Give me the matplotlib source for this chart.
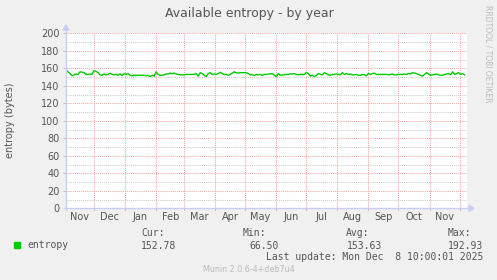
import matplotlib
matplotlib.use("Agg")
import matplotlib.pyplot as plt
import matplotlib.dates as mdates
import numpy as np
import datetime as dt

# ---- data ----
start_date = dt.datetime(2024, 11, 3)
end_date = dt.datetime(2025, 12, 8, 10, 0, 1)
step_days = 2
entropy = [
    158, 156, 154, 151.5, 152.5, 153.5, 153, 156, 155.5, 155, 153, 153, 153.5, 153,
    157.5, 156.5, 155, 152.5, 152, 153.5, 152.5, 153, 154.5, 153, 152.5, 153, 152,
    153.5, 151.5, 154, 153, 154,
    152, 151.5, 152, 152, 152, 152, 152, 152, 151.5, 152, 150.5, 152, 151, 156,
    153, 152, 152, 152.5, 153.5, 153.5, 154.5, 154, 154.5, 153.5, 153, 152.5, 152.5,
    152.5, 153, 153, 153, 153, 153, 154,
    151, 155, 154, 152, 150.5, 154, 155, 153, 153.5, 153, 154, 155.5, 154, 153, 153,
    152, 153, 154.5, 156, 155, 154.5, 155, 155, 155, 155, 154, 152.5, 152.5, 152,
    153, 152.5, 153, 152,
    153, 153, 153.5, 153.5, 154, 152, 150.5, 154, 152, 152.5, 152.5, 153, 153, 153.5,
    153.5, 154, 153, 152.5, 153, 153, 153, 155.5, 154, 151, 152, 150.5, 152, 154,
    153, 152.5, 155, 154, 152.5, 152,
    153, 153, 153.5, 153, 152.5, 155, 153, 154, 153, 153.5, 152.5, 152.5, 153, 152,
    152, 153, 152.5, 151.5, 154, 153, 154, 154.5, 153, 153, 153, 153, 153, 153,
    152.5, 153, 153.5, 152.5, 152.5, 153,
    153, 153, 153.5, 153, 154, 153.5, 155, 154.5, 154, 153, 152, 151, 153, 155,
    153.5, 152, 152.5, 153, 153.5, 152.5, 152, 152, 153, 153.5, 154, 152.5, 156,
    153, 154, 155, 153, 154, 152.5,
]
yticks = [0, 20, 40, 60, 80, 100, 120, 140, 160, 180, 200]
month_labels = ["Nov", "Dec", "Jan", "Feb", "Mar", "Apr", "May", "Jun", "Jul",
                "Aug", "Sep", "Oct", "Nov"]
month_starts = [dt.datetime(2024, 11, 1), dt.datetime(2024, 12, 1), dt.datetime(2025, 1, 1),
                dt.datetime(2025, 2, 1), dt.datetime(2025, 3, 1), dt.datetime(2025, 4, 1),
                dt.datetime(2025, 5, 1), dt.datetime(2025, 6, 1), dt.datetime(2025, 7, 1),
                dt.datetime(2025, 8, 1), dt.datetime(2025, 9, 1), dt.datetime(2025, 10, 1),
                dt.datetime(2025, 11, 1), dt.datetime(2025, 12, 1)]
legend_name = "entropy"
cur_v, min_v, avg_v, max_v = "152.78", "66.50", "153.63", "192.93"

dates = [start_date + dt.timedelta(days=step_days * i) for i in range(len(entropy))]

# ---- figure ----
W, H = 497, 280
bg = "#F0F0F0"
fig = plt.figure(figsize=(W / 100, H / 100), dpi=100, facecolor=bg)

def fx(px):
    return px / W

def fy(py):
    return 1 - py / H

L, R, T, B = 66, 467, 33.3, 208.3
ax = fig.add_axes([fx(L), fy(B), fx(R) - fx(L), fy(T) - fy(B)])
ax.set_facecolor("white")
for s in ax.spines.values():
    s.set_visible(False)

ax.set_xlim(mdates.date2num(start_date), mdates.date2num(end_date))
ax.set_ylim(0, 200)

major_c = "#F2A6A6"
minor_c = "#CCCCCC"
dot = (0, (1, 1))
lw = 0.75

for v in range(10, 200, 20):
    ax.axhline(v, color=minor_c, lw=lw, ls=dot, zorder=1)
for v in yticks[1:]:
    ax.axhline(v, color=major_c, lw=lw, ls=dot, zorder=1)
for d in month_starts[1:]:
    ax.axvline(mdates.date2num(d), color=major_c, lw=lw, ls=dot, zorder=1)

ax.plot(mdates.date2num(dates), entropy, color="#00CC00", lw=1.0, zorder=3)

ax.set_yticks(yticks)
ax.set_yticklabels([str(v) for v in yticks])
label_pos = [mdates.date2num(d) + 15 for d in month_starts[:-1]]
ax.set_xticks(label_pos)
ax.set_xticklabels(month_labels)
ax.tick_params(axis="x", length=0, pad=3, labelsize=7, labelcolor="#555555")
ax.tick_params(axis="y", length=2.2, width=0.7, color="#BBBBBB", pad=2.5,
               labelsize=7, labelcolor="#555555")
for d in month_starts[1:]:
    ax.plot([mdates.date2num(d)] * 2, [-1.5, 0], color=major_c, lw=0.75,
            clip_on=False, zorder=2)

# axes with arrows
axis_c = "#C8CCF8"
fig.add_artist(plt.Line2D([fx(L), fx(L)], [fy(B + 2), fy(28)], color=axis_c, lw=1.0))
fig.add_artist(plt.Line2D([fx(L - 2), fx(471)], [fy(B), fy(B)], color=axis_c, lw=1.0))
fig.add_artist(plt.Polygon([[fx(L - 3), fy(30)], [fx(L + 3), fy(30)], [fx(L), fy(25)]],
                           closed=True, color=axis_c, transform=fig.transFigure))
fig.add_artist(plt.Polygon([[fx(469), fy(B - 3)], [fx(469), fy(B + 3)], [fx(474), fy(B)]],
                           closed=True, color=axis_c, transform=fig.transFigure))

# texts
txt = "#555555"
fig.text(fx(249), fy(14), "Available entropy - by year", ha="center", va="center",
         fontsize=9, color=txt)
fig.text(fx(10), fy(120), "entropy (bytes)", rotation=90, ha="center", va="center",
         fontsize=7, color=txt)
fig.text(fx(488), fy(5), "RRDTOOL / TOBI OETIKER", rotation=-90, ha="center", va="top",
         fontsize=5.5, color="#BBBBBB")

mono = "DejaVu Sans Mono"
fs = 7
fig.patches.append(plt.Rectangle((fx(14), fy(248)), fx(6), fy(242) - fy(248),
                                 color="#00CC00", transform=fig.transFigure, figure=fig))
fig.text(fx(27), fy(245), legend_name, family=mono, fontsize=fs, color=txt, va="center")
fig.text(fx(141), fy(233), "Cur:", family=mono, fontsize=fs, color=txt, va="center")
fig.text(fx(176), fy(246), cur_v, family=mono, fontsize=fs, color=txt, va="center", ha="right")
fig.text(fx(243), fy(233), "Min:", family=mono, fontsize=fs, color=txt, va="center")
fig.text(fx(279), fy(246), min_v, family=mono, fontsize=fs, color=txt, va="center", ha="right")
fig.text(fx(346), fy(233), "Avg:", family=mono, fontsize=fs, color=txt, va="center")
fig.text(fx(382), fy(246), avg_v, family=mono, fontsize=fs, color=txt, va="center", ha="right")
fig.text(fx(448), fy(233), "Max:", family=mono, fontsize=fs, color=txt, va="center")
fig.text(fx(483), fy(246), max_v, family=mono, fontsize=fs, color=txt, va="center", ha="right")
fig.text(fx(483), fy(257), "Last update: Mon Dec  8 10:00:01 2025", family=mono,
         fontsize=fs, color=txt, va="center", ha="right")
fig.text(fx(249), fy(269), "Munin 2.0.6-4+deb7u4", fontsize=5.8, color="#BBBBBB",
         va="center", ha="center")

fig.savefig("out.png", dpi=100, facecolor=bg)
